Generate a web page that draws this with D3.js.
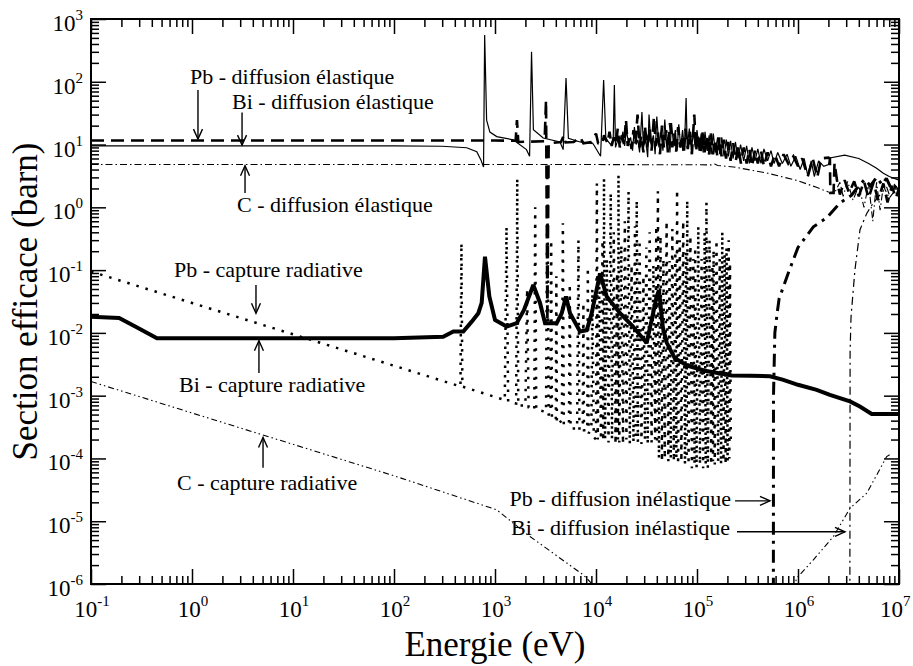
<!DOCTYPE html>
<html><head><meta charset="utf-8">
<script src="https://cdn.jsdelivr.net/npm/d3@7"></script>
<style>
body{margin:0;background:#fff}
svg{display:block}
</style>
</head><body>
<svg id="c" width="913" height="666"></svg>
<script>
// ---------------- data ----------------
const xMajor = [1e-1,1e0,1e1,1e2,1e3,1e4,1e5,1e6,1e7];
const xExp   = ["-1","0","1","2","3","4","5","6","7"];
const yMajor = [1e-6,1e-5,1e-4,1e-3,1e-2,1e-1,1e0,1e1,1e2,1e3];
const yExp   = ["-6","-5","-4","-3","-2","-1","0","1","2","3"];
const xTitle = "Energie (eV)";
const yTitle = "Section efficace (barn)";

// C - diffusion élastique
const cElastic = [[0.1,4.8],[1e4,4.8],[1.4e5,4.75],[1.5e5,4.9],[1.6e5,4.65],[2.3e5,4.4],[5e5,3.5],[1e6,2.65],[1.5e6,2.1],[2e6,1.75],[2.3e6,1.7],
 [2.6e6,2.5],[2.8e6,1.5],[3.1e6,2.6],[3.5e6,1.3],[4e6,2.2],[4.5e6,1.0],[5e6,2.4],[5.5e6,0.6],[6e6,2.5],[6.5e6,0.9],[7e6,2.2],[8e6,1.4],[9e6,1.8],[1e7,1.5]];

// C - capture radiative
const cCapture = [[0.1,0.00168],[1,0.00053],[10,0.000168],[100,0.000053],[1040,1.52e-5],[2220,5.7e-6],[7480,1.4e-6],[10500,8e-7],[1e5,1e-8],
 [9.0e5,8e-7],[9.7e5,1.24e-6],[1.42e6,2.43e-6],[2.24e6,5.7e-6],[3.27e6,1.6e-5],[4.8e6,2.8e-5],[7.55e6,1.07e-4],[8.5e6,1.2e-4]];

// Pb - capture radiative
const pbCapture = [[0.1,0.095],[1,0.030],[10,0.0095],[100,0.0030],[455,0.0014],
 [465,0.27],[475,0.0014],[1250,0.00085],[1300,0.49],[1350,0.0008],
 [1620,0.00075],[1660,2.9],[1700,0.0007],[2000,0.0007],[2080,0.05],[2150,0.00065],
 [2450,0.0006],[2500,1.0],[2560,0.0006],[3200,0.00055],[3300,5.0],[3400,0.0005],
 [3550,0.0005],[3600,0.3],[3660,0.00045],[4000,0.0004],[4050,0.08],[4100,0.00035],
 [4600,0.0004],[4700,0.56],[4800,0.00035],[5400,0.00035],[5500,0.06],[5600,0.0003],
 [6500,0.0003],[6700,0.3],[6850,0.0003],[7400,0.0003],[7500,0.03],[7600,0.00028],
 [8200,0.00028],[8300,0.11],[8450,0.00025],[9000,0.0003],[9200,0.05],[9500,0.00022],
 [10000,0.0002],[10200,2.4],[10400,0.0002],[10800,0.08],[11200,0.0002],[11600,0.3],[11800,0.00019],
 [12000,2.9],[12300,0.0002],[12800,0.15],[13300,0.00018],
 [14000,1.7],[14400,0.0002],[15000,0.4],[15600,0.00017],[16200,0.09],[16500,0.0002],
 [16700,3.3],[17000,0.00018],[17800,0.25],[18500,0.00017],[19300,0.6],[20000,0.0002],
 [21000,1.8],[21600,0.00017],[22500,0.12],[23500,0.00018],[24300,0.5],[24800,0.0002],
 [25300,1.3],[26000,0.00018],[27000,0.3],[28200,0.00017],[29500,0.08],[30500,0.0002],
 [31500,0.23],[32500,0.00017],[34000,0.4],[35500,0.00018],[37000,0.12],[38500,0.0002],[39500,0.5],[40200,0.00017],
 [41000,1.8],[42000,0.0001],[43500,0.35],[45000,0.00009],[46500,0.15],[48000,0.0001],[50000,0.6],[52000,0.00009],
 [53500,0.14],[55000,0.0001],[57000,0.45],[59000,0.00009],[61000,0.2],[62500,0.0001],
 [63500,1.9],[65000,0.00008],[67500,0.3],[70000,0.00009],[73000,0.6],[76000,0.00008],[78000,0.2],[79000,0.0001],
 [80000,1.3],[82500,0.00008],[86000,0.35],[89000,0.00007],[92000,0.15],[94500,0.00008],
 [96000,0.23],[99000,0.00007],[103000,0.5],[107000,0.00008],[111000,0.15],[115000,0.00007],[119000,0.4],[122000,0.00008],
 [124000,1.2],[128000,0.00007],[133000,0.3],[138000,0.00008],[142000,0.12],[144000,0.00009],
 [146000,0.21],[150000,0.00008],[156000,0.3],[162000,0.00009],[168000,0.15],[173000,0.00008],
 [178000,0.41],[183000,0.00009],[188000,0.18],[192000,0.00008],
 [196000,0.23],[201000,0.00009],[206000,0.3],[209000,0.0001],[212000,0.13],[216000,0.0002]];

// Bi - capture radiative
const biCapture = [[0.1,0.018],[0.19,0.0172],[0.28,0.0124],[0.45,0.0082],[100,0.0082],[307,0.0087],[387,0.0105],[485,0.0105],
 [588,0.0151],[684,0.0206],[738,0.030],[796,0.164],[879,0.038],[1000,0.0161],[1306,0.0126],[1641,0.0143],[1937,0.0232],
 [2395,0.058],[2790,0.030],[3130,0.0143],[4080,0.0143],[4575,0.0206],[5045,0.038],[5530,0.0206],[6950,0.0105],[8090,0.011],
 [9070,0.0206],[10960,0.089],[12770,0.038],[17300,0.0206],[23250,0.0126],[31750,0.0069],[39900,0.038],[42000,0.048],
 [46000,0.012],[50100,0.007],[60000,0.004],[80000,0.003],[120000,0.0025],[220700,0.0021],[335000,0.00207],[528000,0.00204],
 [716000,0.00179],[1e6,0.00149],[1.53e6,0.00124],[2.07e6,0.00103],[3.27e6,0.00081],[4.1e6,0.00067],[5.37e6,0.00051],[1e7,0.00051]];

// Pb - diffusion élastique
const pbElastic = [[0.1,11.6],[1000,11.6],[1600,11.5],[1650,24.5],[1700,11.0],[3100,11.3],[3200,51],[3300,0.015],[3400,10.5],
 [4500,11],[4800,14],[5000,10.8],[6000,11],[7000,13],[7500,10.5],[9000,11],[10000,15],[10500,10.5],[11500,10],[12000,14],
 [13000,10.5],[13600,16],[14300,9.5],[15000,13],[15800,10],[16400,18],[17200,9],[18000,14],[19000,10],[19800,25],[20600,9.5],
 [21500,13],[22500,8.5],[23500,17],[24500,10],[25800,30],[27000,9],[28000,14],[29500,7.5],[30500,20],[32000,9],[34000,18],
 [35500,8],[37500,28],[39000,9.5],[41000,16],[43000,7],[45000,20],[47000,9],[49500,17],[51500,7.5],[54000,22],[57000,9],
 [59500,15],[62000,7.5],[65000,19],[68000,9],[71000,14],[74000,7],[77000,18],[81000,8.5],[85000,16],[89000,7],[94000,30],
 [98000,8],[103000,15],[108000,7],[113000,16],[119000,7.5],[125000,14],[131000,6.5],[137000,15],[144000,7],[151000,12],
 [159000,6.5],[167000,13],[175000,6.5],[184000,12],[194000,6],[204000,11],[215000,5.5],[228000,10.5],[242000,5.5],
 [257000,9.5],[272000,5],[290000,9],[310000,5],[330000,8.5],[350000,4.5],[375000,8],[400000,5],[430000,8],[460000,4.5],
 [500000,7.5],[540000,4.5],[590000,7],[650000,4.5],[720000,7],[800000,5],[900000,6.5],[1e6,4.5],[1.1e6,6],[1.25e6,3.1],
 [1.4e6,6],[1.55e6,3.0],[1.7e6,6],[2.0e6,6.2],[2.07e6,6.0],[2.09e6,1.7],[2.25e6,1.7],[2.3e6,5.1],[2.45e6,2.5],[2.6e6,1.6],
 [2.9e6,2.7],[3.2e6,1.7],[3.6e6,2.6],[4e6,1.5],[4.5e6,2.6],[5e6,1.4],[5.6e6,2.5],[6.2e6,1.3],[7e6,2.4],[7.7e6,1.2],
 [8.5e6,2.2],[9.3e6,1.4],[1e7,2.0]];

// Bi - diffusion élastique
const biElastic = [[0.1,9.5],[100,9.5],[300,9.4],[525,8.9],[660,7.7],[725,5.7],[770,4.4],[790,556],[826,24.5],[890,15.8],
 [1040,13.4],[1515,11.9],[2050,8.3],[2200,6.5],[2300,301],[2400,17.2],[3000,12.7],[4400,11],[4730,8.3],[5050,115],[5330,12.6],
 [6950,11],[9360,10.3],[11100,6.5],[11900,107],[12500,13],
 [13000,11.5],[14000,10],[14800,12],[15200,89],[15600,9],[16500,12],[17500,10.5],[18500,16],[19200,9.5],[20000,17],[21000,10.5],
 [22000,13],[23000,8],[24000,19],[25000,10],[26000,12],[27000,7.5],[28500,33],[29500,9],[31000,12],[32500,6.3],[33500,30],
 [35000,10],[37000,14],[38500,7],[40000,28],[42000,9],[44000,16],[46000,8],[48000,25],[50000,9.5],[52000,15],[54000,7.5],
 [56000,22],[58500,10],[61000,17],[63500,8],[66000,21],[69000,9],[72000,17],[75000,8.5],[78000,55],[80000,9],[84000,18],
 [88000,8],[92000,16],[96000,9],[100000,17],[105000,8],[110000,15],[115000,7.5],[120000,16],[126000,8],[132000,14],[138000,7],
 [145000,15],[152000,7.5],[160000,13],[168000,7],[176000,13],[185000,6.5],[195000,12],[205000,6.5],[215000,11.5],[228000,6],
 [240000,11],[255000,6],[270000,10],[290000,5.5],[310000,9.5],[330000,5],[350000,9],[375000,5.5],[400000,8.5],[430000,5],
 [460000,8.5],[500000,5.5],[540000,8],[580000,5],[630000,7.5],[700000,5],[780000,7],[850000,4.5],[950000,6.5],[1.05e6,4],
 [1.15e6,6],[1.25e6,3.2],[1.35e6,5.5],[1.45e6,3.1],[1.6e6,5.5],[1.8e6,4.5],[2.0e6,4.8],[2.07e6,6.1],[2.9e6,6.8],[4e6,6.0],
 [5e6,5.0],[6e6,4.2],[7e6,3.5],[8e6,3.1],[1e7,2.7]];

// Pb - diffusion inélastique
const pbInelastic = [[5.7e5,1e-7],[5.72e5,0.001],[5.9e5,0.01],[6.2e5,0.02],[6.5e5,0.035],[8.0e5,0.089],[1e6,0.23],[1.42e6,0.49],
 [1.92e6,0.68],[2.61e6,1.18],[3.39e6,1.56],[4e6,2.2],[4.6e6,2.8],[5.2e6,2.2],[6e6,3.0],[6.8e6,2.3],[7.5e6,2.9],[8.5e6,1.9],[1e7,2.4]];

// Bi - diffusion inélastique
const biInelastic = [[3.26e6,1e-7],[3.28e6,0.005],[3.35e6,0.018],[3.66e6,0.1],[4.11e6,0.44],[4.79e6,0.8],[5.57e6,1.18],
 [7.55e6,2.1],[8e6,1.6],[9e6,2.3],[1e7,1.9]];

// annotations (data coordinates)
const notes = [
 {t:"Pb - diffusion élastique", at:[0.955,92.3], anchor:"start", from:[1.146,74], to:[1.146,12.2]},
 {t:"Bi - diffusion élastique", at:[2.49,36.9], anchor:"start", from:[3.13,32.5], to:[3.13,9.8]},
 {t:"C - diffusion élastique",  at:[2.79,0.845], anchor:"start", from:[3.35,1.69], to:[3.35,4.6]},
 {t:"Pb - capture radiative",   at:[0.664,0.078], anchor:"start", from:[4.3,0.058], to:[4.3,0.0205]},
 {t:"Bi - capture radiative",   at:[0.743,0.00115], anchor:"start", from:[4.6,0.0023], to:[4.6,0.0075]},
 {t:"C - capture radiative",    at:[0.71,3.16e-5], anchor:"start", from:[5.05,7.08e-5], to:[5.05,2.15e-4]},
 {t:"Pb - diffusion inélastique", at:[2.17e5,1.76e-5], anchor:"end", from:[2.38e5,2.11e-5], to:[5.28e5,2.11e-5]},
 {t:"Bi - diffusion inélastique", at:[2.12e5,6.07e-6], anchor:"end", from:[2.49e5,6.78e-6], to:[2.92e6,6.78e-6]}
];

// ---------------- drawing ----------------
const FONT="'Liberation Serif','Times New Roman',Times,'DejaVu Serif',serif";
const W=913;
const m={l:91,r:899,t:19,b:584};
const svg=d3.select("#c");
const x=d3.scaleLog().domain([1e-1,1e7]).range([m.l,m.r]);
const y=d3.scaleLog().domain([1e-6,1e3]).range([m.b,m.t]);

svg.append("defs").append("clipPath").attr("id","clip")
  .append("rect").attr("x",m.l).attr("y",m.t).attr("width",m.r-m.l).attr("height",m.b-m.t);

const line=d3.line().x(d=>x(d[0])).y(d=>y(d[1]));
const g=svg.append("g").attr("clip-path","url(#clip)");
const series=[
 {d:cElastic,  w:1.1, dash:"7,3,1.5,3"},
 {d:cCapture,  w:1.1, dash:"6,3,1.5,3,1.5,3"},
 {d:pbCapture, w:2.5, dash:"2.5,7"},
 {d:biCapture, w:4,   dash:null},
 {d:pbElastic, w:2.6, dash:"13,7"},
 {d:biElastic, w:1.2, dash:null},
 {d:pbInelastic,w:3,  dash:"13,6,3,6"},
 {d:biInelastic,w:1.2,dash:"8,4,2,4"}
];
series.forEach(s=>{
  g.append("path").attr("d",line(s.d)).attr("fill","none").attr("stroke","#000")
   .attr("stroke-width",s.w).attr("stroke-linejoin","miter").attr("stroke-miterlimit",2)
   .attr("stroke-dasharray",s.dash);
});

const minors=(lo,hi)=>{const a=[];for(let e=lo;e<hi;e++)for(let k=2;k<=9;k++)a.push(k*Math.pow(10,e));return a;};
const xMinor=minors(-1,7), yMinor=minors(-6,3);

function ax(gen,tr,vals,size){
  const a=svg.append("g").attr("transform",tr).call(gen.tickValues(vals).tickSize(size).tickFormat(""));
  a.select(".domain").remove();
  a.selectAll(".tick line").attr("stroke","#000").attr("stroke-width",1.5);
}
ax(d3.axisBottom(x),`translate(0,${m.b})`,xMajor,-15);
ax(d3.axisBottom(x),`translate(0,${m.b})`,xMinor,-8);
ax(d3.axisTop(x),`translate(0,${m.t})`,xMajor,-15);
ax(d3.axisTop(x),`translate(0,${m.t})`,xMinor,-8);
ax(d3.axisLeft(y),`translate(${m.l},0)`,yMajor,-15);
ax(d3.axisLeft(y),`translate(${m.l},0)`,yMinor,-8);
ax(d3.axisRight(y),`translate(${m.r},0)`,yMajor,-15);
ax(d3.axisRight(y),`translate(${m.r},0)`,yMinor,-8);

svg.append("rect").attr("x",m.l).attr("y",m.t).attr("width",m.r-m.l).attr("height",m.b-m.t)
  .attr("fill","none").attr("stroke","#000").attr("stroke-width",2);

function txt(){return svg.append("text").attr("font-family",FONT).attr("fill","#000");}

xMajor.forEach((v,i)=>{
  const t=txt().attr("x",x(v)+1).attr("y",m.b+33).attr("text-anchor","middle").attr("font-size",23);
  t.append("tspan").text("10");
  t.append("tspan").attr("dy",-11).attr("font-size",15).text(xExp[i]);
  const bb=t.node().getBBox();
  if(bb.x+bb.width>W-2) t.attr("x",x(v)+1-(bb.x+bb.width-(W-2)));
});
yMajor.forEach((v,i)=>{
  const t=txt().attr("x",m.l-8).attr("y",y(v)+12).attr("text-anchor","end").attr("font-size",23);
  t.append("tspan").text("10");
  t.append("tspan").attr("dy",-11).attr("font-size",15).text(yExp[i]);
});

txt().attr("x",(m.l+m.r)/2).attr("y",656).attr("text-anchor","middle").attr("font-size",35).text(xTitle);
txt().attr("transform",`translate(37,${(m.t+m.b)/2}) rotate(-90)`).attr("text-anchor","middle").attr("font-size",35).text(yTitle);

notes.forEach(n=>{
  txt().attr("x",x(n.at[0])).attr("y",y(n.at[1])).attr("text-anchor",n.anchor).attr("font-size",22).text(n.t);
  const x1=x(n.from[0]),y1=y(n.from[1]),x2=x(n.to[0]),y2=y(n.to[1]);
  svg.append("line").attr("x1",x1).attr("y1",y1).attr("x2",x2).attr("y2",y2).attr("stroke","#000").attr("stroke-width",1.4);
  const ang=Math.atan2(y2-y1,x2-x1), L=10, hw=4.5;
  const p=[[x2-L*Math.cos(ang)+hw*Math.sin(ang), y2-L*Math.sin(ang)-hw*Math.cos(ang)],[x2,y2],
           [x2-L*Math.cos(ang)-hw*Math.sin(ang), y2-L*Math.sin(ang)+hw*Math.cos(ang)]];
  svg.append("path").attr("d",d3.line()(p)).attr("fill","none").attr("stroke","#000").attr("stroke-width",1.4);
});
</script>
</body></html>
